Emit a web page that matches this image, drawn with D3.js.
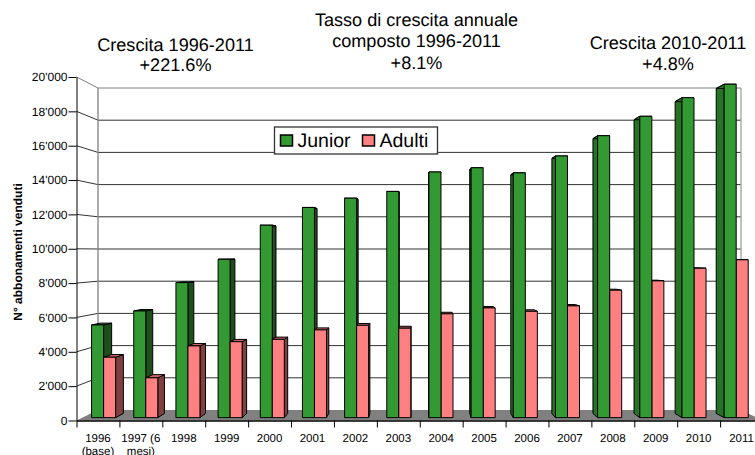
<!DOCTYPE html>
<html><head><meta charset="utf-8">
<script src="https://cdn.jsdelivr.net/npm/d3@7/dist/d3.min.js"></script>
<style>html,body{margin:0;padding:0;background:#fff}svg{display:block}text{font-family:"Liberation Sans",Arial,sans-serif;text-rendering:geometricPrecision}</style>
</head><body><svg id="c" width="755" height="455"></svg>
<script>
const categories=["1996 (base)","1997 (6 mesi)","1998","1999","2000","2001","2002","2003","2004","2005","2006","2007","2008","2009","2010","2011"];
const junior=[5490,6320,8000,9380,11400,12450,13000,13400,14550,14800,14500,15500,16700,17850,18950,19750];
const adulti=[3580,2360,4250,4500,4640,5200,5470,5300,6150,6500,6300,6620,7550,8100,8850,9350];
const yTicks=[0,2000,4000,6000,8000,10000,12000,14000,16000,18000,20000];
const seriesNames=["Junior","Adulti"];
const titles=[
 {x:175.5,lines:["Crescita 1996-2011","+221.6%"],y:[51,71]},
 {x:416.5,lines:["Tasso di crescita annuale","composto 1996-2011","+8.1%"],y:[26,47,69]},
 {x:668,lines:["Crescita 2010-2011","+4.8%"],y:[49,70]}
];
const svg=d3.select("#c");
const n=categories.length;
const xFront=d3.scaleLinear().domain([0,n]).range([76.5,763]);
const xBack=d3.scaleLinear().domain([0,n]).range([98,741]);
const yFront=d3.scaleLinear().domain([0,20000]).range([420.5,77]);
const yBack=d3.scaleLinear().domain([0,20000]).range([410,88]);
const X=(u,z)=>xFront(u)+(xBack(u)-xFront(u))*z;
const Y=(v,z)=>yFront(v)+(yBack(v)-yFront(v))*z;
const poly=(g,pts,fill,stroke)=>g.append("polygon").attr("points",pts.map(p=>p.join(",")).join(" ")).attr("fill",fill).attr("stroke",stroke||"none");

// floor
poly(svg,[[xFront(0),yFront(0)],[xFront(n),yFront(0)],[xBack(n),yBack(0)],[xBack(0),yBack(0)]],"#808080");
// grid
const grid=svg.append("g").attr("fill","none");
yTicks.forEach(t=>{
  const col=t===20000?"#808080":"#333";
  if(t>0){grid.append("line").attr("x1",xBack(0)).attr("x2",xBack(n)).attr("y1",yBack(t)).attr("y2",yBack(t)).attr("stroke",col);
  grid.append("line").attr("x1",xFront(0)).attr("x2",xBack(0)).attr("y1",yFront(t)).attr("y2",yBack(t)).attr("stroke",col);}
});
grid.append("line").attr("x1",xBack(0)).attr("x2",xBack(0)).attr("y1",yBack(0)).attr("y2",yBack(20000)).attr("stroke","#808080").attr("stroke-width",1.3);
grid.append("line").attr("x1",xBack(n)).attr("x2",xBack(n)).attr("y1",yBack(0)).attr("y2",yBack(20000)).attr("stroke","#a0a0a0").attr("stroke-width",1.3);

// bars
const z0=.27,z1=.67;
const bars=svg.append("g").attr("stroke-linejoin","round");
function box(u,u0,u1,v,c){
  const g=bars.append("g");
  const f=(a,val,z)=>[X(u+a,z),Y(val,z)];
  const fl=X(u+u0,z0),bl=X(u+u0,z1),fr=X(u+u1,z0),br=X(u+u1,z1);
  if(bl<fl) poly(g,[f(u0,0,z0),f(u0,v,z0),f(u0,v,z1),f(u0,0,z1)],c.left,"#000");
  if(br>fr) poly(g,[f(u1,0,z0),f(u1,v,z0),f(u1,v,z1),f(u1,0,z1)],c.right,"#000");
  poly(g,[f(u0,v,z0),f(u1,v,z0),f(u1,v,z1),f(u0,v,z1)],c.top,"#000");
  poly(g,[f(u0,0,z0),f(u1,0,z0),f(u1,v,z0),f(u0,v,z0)],c.front,"#000");
}
const cG={front:"#339933",right:"#1c4f1c",left:"#267326",top:"#267326"};
const cR={front:"#ff8080",right:"#804040",left:"#804040",top:"#cc6666"};
const u0=.22,um=.505,u1=.79;
categories.forEach((c,i)=>{
  const facesLeft=X(i+um,z1)<X(i+um,z0);
  if(facesLeft){ box(i,um,u1,adulti[i],cR); box(i,u0,um,junior[i],cG); }
  else { box(i,u0,um,junior[i],cG); box(i,um,u1,adulti[i],cR); }
});

// axes
const gy=svg.append("g").attr("transform","translate(76.5,0)")
  .call(d3.axisLeft(yFront).tickValues(yTicks).tickSize(8).tickSizeOuter(0).tickFormat(d=>d3.format(",")(d).replace(/,/g,"'")));
gy.selectAll("line,path").attr("stroke","#000");
gy.selectAll("text").attr("font-size",12).attr("x",-9).attr("fill","#000").style("font-family",'"Liberation Sans"');
const gx=svg.append("g").attr("transform","translate(0,420.5)")
  .call(d3.axisBottom(xFront).tickValues(d3.range(0,n)).tickSize(7).tickSizeOuter(0).tickFormat(""));
gx.selectAll("line,path").attr("stroke","#000");
gx.select("path").attr("stroke-width",1.3);
const lab=d3.scaleBand().domain(categories).range([xFront(0),xFront(n)]);
const labels=svg.append("g");
categories.forEach(c=>{
  const m=c.match(/^(\S+(?: \(6)?)\s*(.*)$/);
  const t=labels.append("text").attr("text-anchor","middle").attr("font-size",11.5).attr("fill","#000");
  const cx=lab(c)+lab.bandwidth()/2;
  t.append("tspan").attr("x",cx).attr("y",441.5).text(m[1]);
  if(m[2]) t.append("tspan").attr("x",cx).attr("y",454.5).text(m[2]);
});
svg.append("text").attr("transform","translate(21.5,252) rotate(-90)").attr("text-anchor","middle").attr("font-size",12).attr("font-weight","bold").text("N° abbonamenti venduti");

// titles
titles.forEach(t=>t.lines.forEach((l,i)=>svg.append("text").attr("x",t.x).attr("y",t.y[i]).attr("text-anchor","middle").attr("font-size",18.1).attr("fill","#000").text(l)));

// legend
const leg=svg.append("g");
leg.append("rect").attr("x",274.5).attr("y",127).attr("width",163).attr("height",27).attr("fill","#fff").attr("stroke","#333").attr("stroke-width",1.3);
const lx=d3.scalePoint().domain(seriesNames).range([280.5,362.5]);
seriesNames.forEach((s,i)=>{
  leg.append("rect").attr("x",lx(s)).attr("y",135).attr("width",12).attr("height",11).attr("fill",[cG,cR][i].front).attr("stroke","#000").attr("stroke-width",1.5);
  leg.append("text").attr("x",lx(s)+17).attr("y",147).attr("font-size",19.5).text(s);
});
</script></body></html>
